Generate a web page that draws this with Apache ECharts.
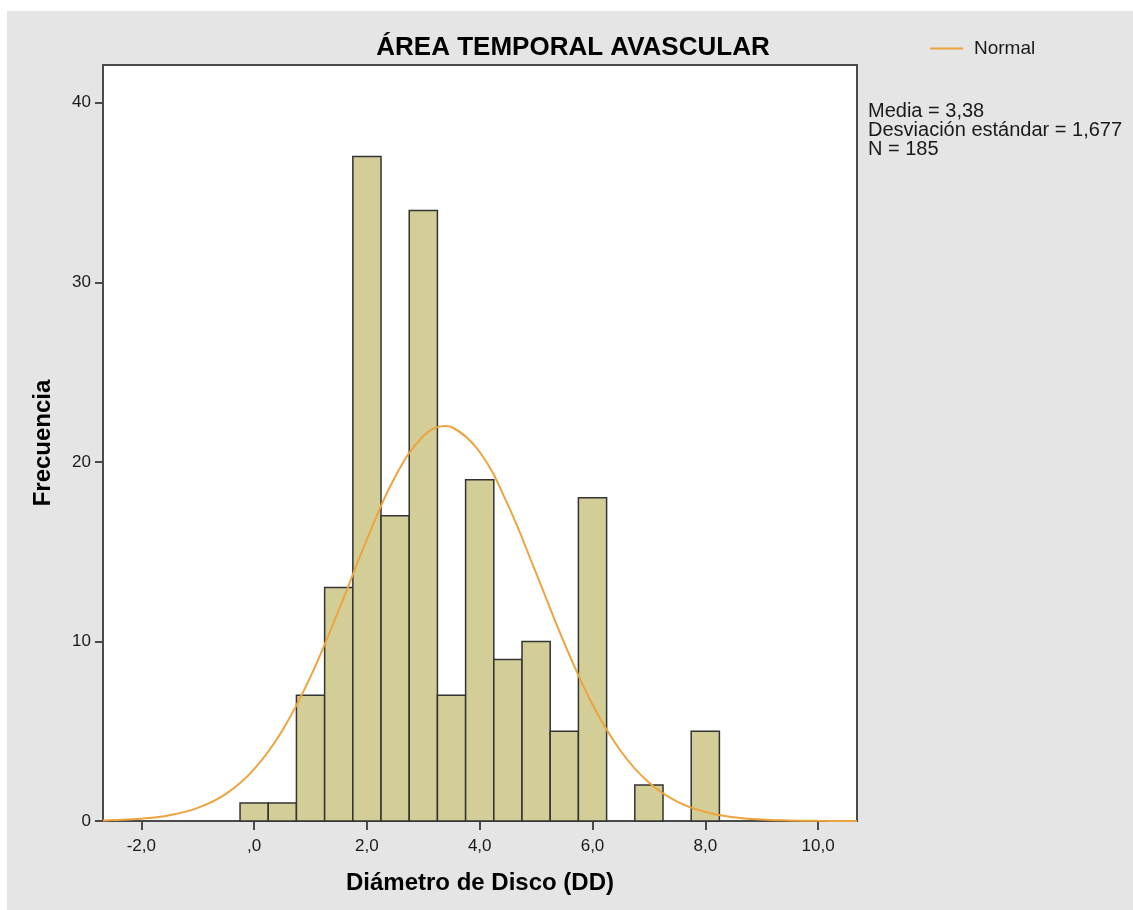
<!DOCTYPE html>
<html>
<head>
<meta charset="utf-8">
<script src="https://cdn.jsdelivr.net/npm/echarts@6/dist/echarts.min.js"></script>
<style>
  html, body { margin: 0; padding: 0; background: #ffffff; }
  #chart { position: absolute; left: 7px; top: 11px; width: 1126px; height: 899px; }
</style>
</head>
<body>
<div id="chart"></div>
<script>
// Histogram bins (centre of each 0.5-wide bin) and their counts
const binCenters = [0, 0.5, 1, 1.5, 2, 2.5, 3, 3.5, 4, 4.5, 5, 5.5, 6, 6.5, 7, 7.5, 8];
const frequencies = [1, 1, 7, 13, 37, 17, 34, 7, 19, 9, 10, 5, 18, 0, 2, 0, 5];
const BIN_WIDTH = 0.5;

// Fitted normal curve, sampled along the x axis
const normalX = [-2.68, -2.5, -2, -1.5, -1, -0.5, 0, 0.5, 1, 1.5, 2, 2.5, 3, 3.38, 3.5, 4, 4.5, 5, 5.5, 6, 6.5, 7, 7.5, 8, 8.5, 9, 9.5, 10, 10.69];
const normalY = [0.03, 0.05, 0.13, 0.32, 0.73, 1.51, 2.89, 5.04, 8.04, 11.74, 15.68, 19.17, 21.44, 22.0, 21.94, 20.55, 17.60, 13.80, 9.90, 6.49, 3.90, 2.14, 1.08, 0.50, 0.21, 0.08, 0.03, 0.01, 0.002];

// Summary statistics
const MEAN_TEXT = '3,38';
const SD_TEXT = '1,677';
const N_TEXT = '185';

// Axis ticks
const xTickValues = [-2, 0, 2, 4, 6, 8, 10];
const xTickLabels = ['-2,0', ',0', '2,0', '4,0', '6,0', '8,0', '10,0'];
const yTickValues = [0, 10, 20, 30, 40];
const yTickLabels = ['0', '10', '20', '30', '40'];

const FONT = '"Liberation Sans", Arial, sans-serif';
const INK = '#1a1a1a';
const FRAME = '#4a4a4a';

const chart = echarts.init(document.getElementById('chart'));

const barData = binCenters.map((c, i) => [c, frequencies[i]]);
const curveData = normalX.map((x, i) => [x, normalY[i]]);

chart.setOption({
  backgroundColor: '#e5e5e5',
  animation: false,
  grid: {
    left: 96, top: 54, width: 754, height: 756,
    show: true, backgroundColor: '#ffffff',
    borderColor: FRAME, borderWidth: 2
  },
  legend: {
    left: 923, top: 28, padding: 0,
    data: [{ name: 'Normal', icon: 'rect' }],
    itemWidth: 33, itemHeight: 2,
    textStyle: { fontFamily: FONT, fontSize: 19, color: INK, padding: [0, 0, 0, 6] }
  },
  graphic: [
    {
      type: 'text',
      x: 566, y: 37,
      style: {
        text: 'ÁREA TEMPORAL AVASCULAR',
        fontFamily: FONT, fontSize: 26, fontWeight: 'bold', fill: '#000',
        align: 'center', verticalAlign: 'middle'
      }
    },
    {
      type: 'text',
      x: 861, y: 91,
      style: {
        text: 'Media = ' + MEAN_TEXT + '\nDesviación estándar = ' + SD_TEXT + '\nN = ' + N_TEXT,
        fontFamily: FONT, fontSize: 20, lineHeight: 19, fill: INK,
        align: 'left', verticalAlign: 'top'
      }
    }
  ],
  xAxis: {
    type: 'value',
    min: -2.68, max: 10.69,
    name: 'Diámetro de Disco (DD)',
    nameLocation: 'middle', nameGap: 50,
    nameTextStyle: { fontFamily: FONT, fontSize: 24, fontWeight: 'bold', color: '#000' },
    axisLine: { show: true, onZero: false, lineStyle: { color: FRAME, width: 2 } },
    axisTick: { show: true, length: 9, customValues: xTickValues, lineStyle: { color: FRAME, width: 2 } },
    axisLabel: {
      customValues: xTickValues, margin: 17,
      fontFamily: FONT, fontSize: 17, color: INK,
      formatter: v => xTickLabels[xTickValues.indexOf(v)]
    },
    splitLine: { show: false }
  },
  yAxis: {
    type: 'value',
    min: 0, max: 42.1,
    name: 'Frecuencia',
    nameLocation: 'middle', nameGap: 48, nameRotate: 90,
    nameTextStyle: { fontFamily: FONT, fontSize: 24, fontWeight: 'bold', color: '#000' },
    axisLine: { show: true, onZero: false, lineStyle: { color: FRAME, width: 2 } },
    axisTick: { show: true, length: 8, customValues: yTickValues, lineStyle: { color: FRAME, width: 2 } },
    axisLabel: {
      customValues: yTickValues, margin: 12,
      fontFamily: FONT, fontSize: 17, color: INK,
      formatter: v => yTickLabels[yTickValues.indexOf(v)]
    },
    splitLine: { show: false }
  },
  series: [
    {
      name: 'Frecuencia',
      type: 'custom',
      data: barData,
      encode: { x: 0, y: 1 },
      renderItem: function (params, api) {
        const c = api.value(0);
        const f = api.value(1);
        if (!f) return null;
        const p0 = api.coord([c - BIN_WIDTH / 2, f]);
        const p1 = api.coord([c + BIN_WIDTH / 2, 0]);
        return {
          type: 'rect',
          shape: { x: p0[0], y: p0[1], width: p1[0] - p0[0], height: p1[1] - p0[1] },
          style: { fill: '#d3ce97', stroke: '#333333', lineWidth: 1.5 }
        };
      },
      z: 2
    },
    {
      name: 'Normal',
      type: 'line',
      data: curveData,
      smooth: 0.4,
      showSymbol: false,
      lineStyle: { color: '#eda43e', width: 2 },
      itemStyle: { color: '#eda43e' },
      z: 3
    }
  ]
});
</script>
</body>
</html>
